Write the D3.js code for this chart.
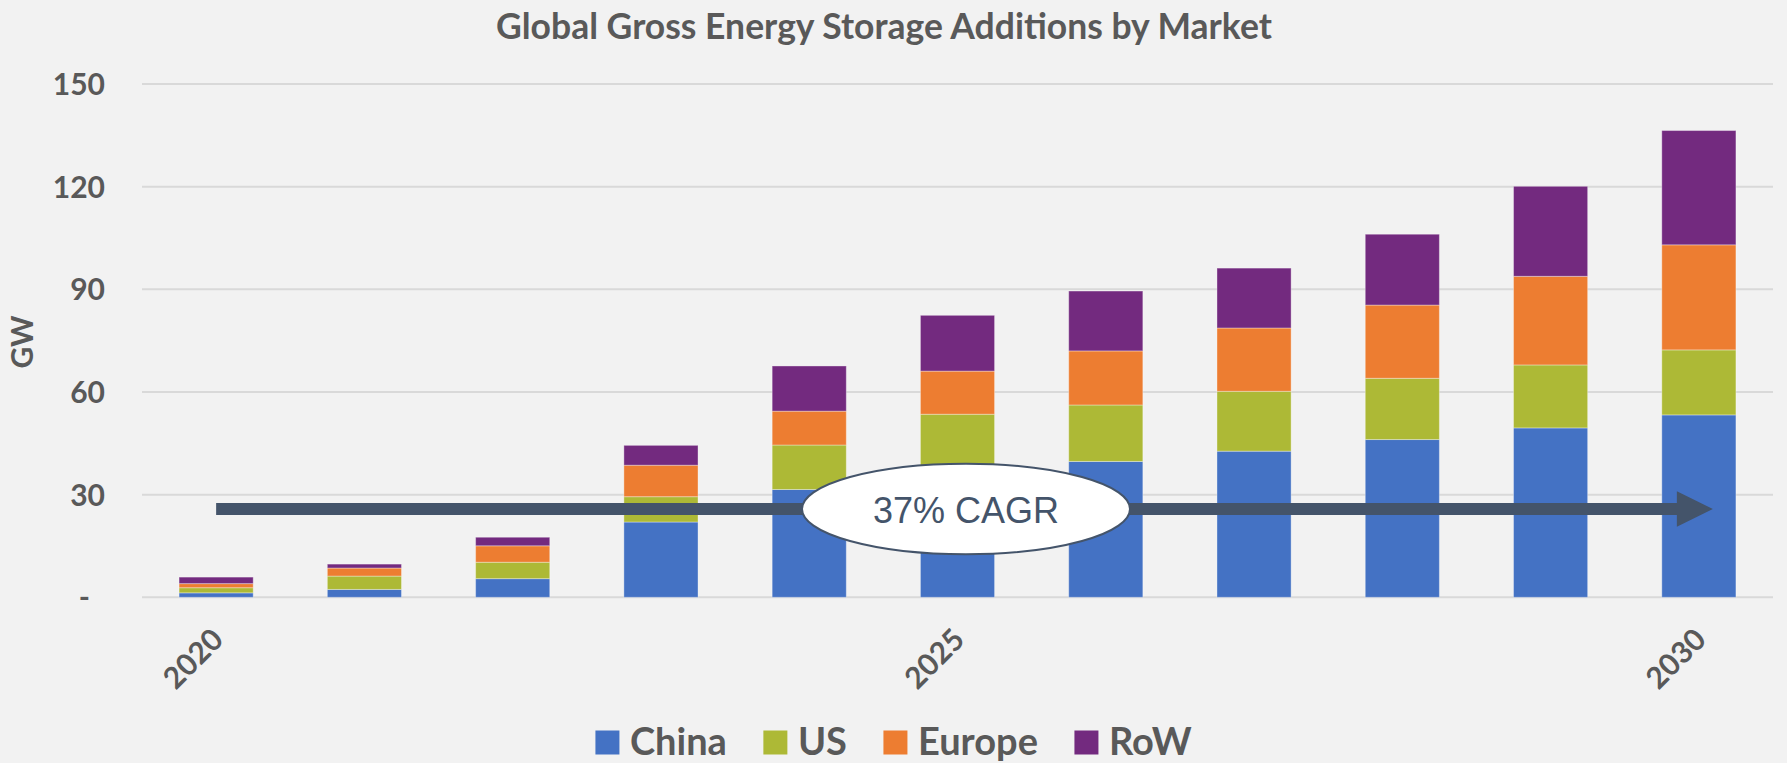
<!DOCTYPE html>
<html>
<head>
<meta charset="utf-8">
<script src="https://cdn.jsdelivr.net/npm/d3@7"></script>
<style>
  html, body { margin: 0; padding: 0; background: #F2F2F2; }
  svg { display: block; }
</style>
</head>
<body>
<svg id="chart" width="1787" height="763"></svg>
<script>
// ---------- Data ----------
const years = ["2020","2021","2022","2023","2024","2025","2026","2027","2028","2029","2030"];
const yearLabels = ["2020","","","","","2025","","","","","2030"];
const seriesNames = ["China","US","Europe","RoW"];
const china  = [1.3, 2.3, 5.45, 22.0, 31.5, 36.0, 39.7, 42.7, 46.1, 49.5, 53.3];
const us     = [1.5, 3.9, 4.8, 7.4, 13.0, 17.5, 16.5, 17.5, 17.9, 18.4, 19.0];
const europe = [1.2, 2.35, 4.8, 9.2, 9.9, 12.6, 15.8, 18.5, 21.4, 25.9, 30.7];
const row    = [1.9, 1.15, 2.5, 5.8, 13.2, 16.3, 17.5, 17.5, 20.7, 26.3, 33.4];
const yTicks = [0, 30, 60, 90, 120, 150];
const titleText = "Global Gross Energy Storage Additions by Market";
const yAxisTitle = "GW";
const cagrLabel = "37% CAGR";
const arrowLevel = 25.8;   // GW level at which the CAGR arrow is drawn

// ---------- Styles ----------
const colors = ["#4472C4", "#ADB936", "#ED7D31", "#732A7F"];
const textColor = "#595959";
const uiFont = "Lato, 'Open Sans', sans-serif";

const svg = d3.select("#chart");
svg.append("rect").attr("width", 1787).attr("height", 763).attr("fill", "#F2F2F2");

const plotLeft = 142, plotRight = 1773, plotTop = 84, plotBottom = 597.3;

const x = d3.scaleBand().domain(years).range([plotLeft, plotRight])
  .paddingInner(0.5).paddingOuter(0.25);
const y = d3.scaleLinear().domain([0, 150]).range([plotBottom, plotTop]);

// ---------- Gridlines ----------
svg.append("g").selectAll("line").data(yTicks).join("line")
  .attr("x1", plotLeft).attr("x2", plotRight)
  .attr("y1", d => y(d)).attr("y2", d => y(d))
  .attr("stroke", "#D9D9D9").attr("stroke-width", 2);

// ---------- Y axis labels ----------
const yAxis = d3.axisLeft(y).tickValues(yTicks).tickSize(0)
  .tickFormat(d => d === 0 ? "-" : d3.format("d")(d));
const gy = svg.append("g").attr("transform", `translate(${plotLeft - 37},0)`).call(yAxis);
gy.select(".domain").remove();
gy.selectAll("text")
  .attr("x", 0).attr("dy", "0.35em")
  .attr("font-family", uiFont).attr("font-weight", "bold").attr("font-size", 30)
  .attr("fill", textColor).attr("text-anchor", "end")
  .filter(d => d === 0).attr("dx", -15);

// Y axis title
svg.append("text")
  .attr("transform", `translate(${33},${342}) rotate(-90)`)
  .attr("text-anchor", "middle")
  .attr("font-family", uiFont).attr("font-weight", "bold").attr("font-size", 30)
  .attr("fill", textColor).text(yAxisTitle);

// ---------- Stacked bars ----------
const table = years.map((yr, i) => ({ year: yr, China: china[i], US: us[i], Europe: europe[i], RoW: row[i] }));
const stacked = d3.stack().keys(seriesNames)(table);

svg.append("g").selectAll("g").data(stacked).join("g")
  .attr("fill", (d, i) => colors[i])
  .selectAll("rect").data(d => d).join("rect")
  .attr("x", d => x(d.data.year))
  .attr("width", x.bandwidth())
  .attr("y", d => y(d[1]))
  .attr("height", d => y(d[0]) - y(d[1]))
  .attr("stroke", "rgba(255,255,255,0.35)").attr("stroke-width", 1);

// ---------- X axis labels ----------
const xg = svg.append("g");
xg.selectAll("text").data(years.filter((d, i) => yearLabels[i] !== "")).join("text")
  .attr("transform", d => `translate(${x(d) + x.bandwidth() / 2 + 1.5},${634}) rotate(-45)`)
  .attr("text-anchor", "end").attr("dy", "0.35em")
  .attr("font-family", uiFont).attr("font-weight", "bold").attr("font-size", 30)
  .attr("fill", textColor)
  .text(d => d);

// ---------- CAGR arrow ----------
const ax0 = x(years[0]) + x.bandwidth() / 2;
const axTip = x(years[years.length - 1]) + x.bandwidth() / 2 + 14;
const ay = y(arrowLevel);
const shaftHalf = 6, headHalf = 17.7, headLen = 36;
const arrowPath = d3.path();
arrowPath.moveTo(ax0, ay - shaftHalf);
arrowPath.lineTo(axTip - headLen, ay - shaftHalf);
arrowPath.lineTo(axTip - headLen, ay - headHalf);
arrowPath.lineTo(axTip, ay);
arrowPath.lineTo(axTip - headLen, ay + headHalf);
arrowPath.lineTo(axTip - headLen, ay + shaftHalf);
arrowPath.lineTo(ax0, ay + shaftHalf);
arrowPath.closePath();
svg.append("path").attr("d", arrowPath.toString()).attr("fill", "#44546A");

// Ellipse label
const ex = x("2025") + x.bandwidth() / 2 + 8.5;
svg.append("ellipse")
  .attr("cx", ex).attr("cy", ay)
  .attr("rx", 164).attr("ry", 45.3)
  .attr("fill", "#FFFFFF").attr("stroke", "#44546A").attr("stroke-width", 2);
svg.append("text")
  .attr("x", ex).attr("y", ay + 13.5)
  .attr("text-anchor", "middle")
  .attr("font-family", "'Liberation Sans', Arial, sans-serif").attr("font-size", 36)
  .attr("fill", "#44546A").text(cagrLabel);

// ---------- Title ----------
svg.append("text")
  .attr("x", 884).attr("y", 39)
  .attr("text-anchor", "middle")
  .attr("font-family", uiFont).attr("font-weight", "bold").attr("font-size", 35.5)
  .attr("fill", textColor).text(titleText);

// ---------- Legend ----------
const legend = svg.append("g");
const items = legend.selectAll("g").data(seriesNames).join("g");
items.append("rect").attr("width", 24).attr("height", 24).attr("y", 730.5)
  .attr("fill", (d, i) => colors[i]);
items.append("text").attr("x", 34.5).attr("y", 755)
  .attr("font-family", uiFont).attr("font-weight", "bold").attr("font-size", 38)
  .attr("fill", textColor).text(d => d);
let cursor = 0;
const offsets = [];
items.each(function () {
  const w = d3.select(this).select("text").node().getComputedTextLength();
  offsets.push(cursor);
  cursor += 34.5 + w + 36.5;
});
const totalW = cursor - 36.5;
const legendStart = 893.5 - totalW / 2;
items.attr("transform", (d, i) => `translate(${legendStart + offsets[i]},0)`);
</script>
</body>
</html>
